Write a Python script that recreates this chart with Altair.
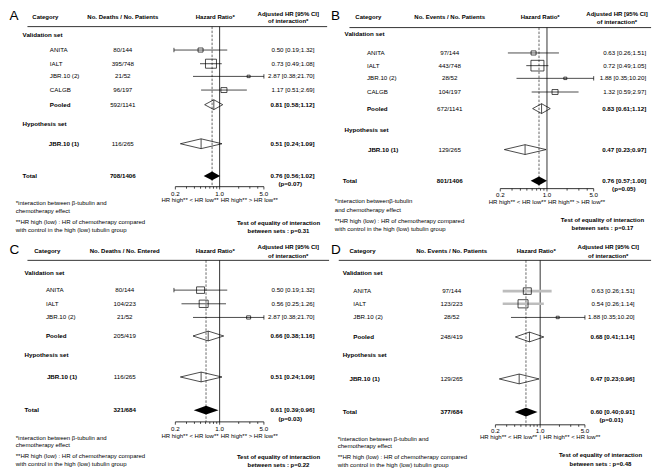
import math
import altair as alt
import pandas as pd

FONT = "Liberation Sans"
SX, SY = 0.973, 0.976
WP, HP = 322, 228
BODY, HDR, FN = 6.2, 6.0, 6.0

# ---------------- data ----------------
panel_ids = ["A", "B", "C", "D"]
count_headers = ["No. Deaths / No. Patients", "No. Events / No. Patients",
                 "No. Deaths / No. Entered", "No. Events / No. Patients"]

studies_AB = ["ANITA", "IALT", "JBR.10 (2)", "CALGB"]
studies_CD = ["ANITA", "IALT", "JBR.10 (2)"]

A_counts = ["80/144", "395/748", "21/52", "96/197"]
A_hr = [0.50, 0.73, 2.87, 1.17]
A_lo = [0.19, 0.49, 0.38, 0.51]
A_hi = [1.32, 1.08, 21.70, 2.69]
A_box = [5, 11, 3, 6]

B_counts = ["97/144", "443/748", "28/52", "104/197"]
B_hr = [0.63, 0.72, 1.88, 1.32]
B_lo = [0.26, 0.49, 0.35, 0.59]
B_hi = [1.51, 1.05, 10.20, 2.97]
B_box = [5, 13, 3, 6]

C_counts = ["80/144", "104/223", "21/52"]
C_hr = [0.50, 0.56, 2.87]
C_lo = [0.19, 0.25, 0.38]
C_hi = [1.32, 1.26, 21.70]
C_box = [8, 9, 4]

D_counts = ["97/144", "123/223", "28/52"]
D_hr = [0.63, 0.54, 1.88]
D_lo = [0.26, 0.26, 0.35]
D_hi = [1.51, 1.14, 10.20]
D_box = [8, 10, 3]

summary_labels = ["Pooled", "JBR.10 (1)", "Total"]
A_sum_counts = ["592/1141", "116/265", "708/1406"]
A_sum_hr = [0.81, 0.51, 0.76]
A_sum_lo = [0.58, 0.24, 0.56]
A_sum_hi = [1.12, 1.09, 1.02]
B_sum_counts = ["672/1141", "129/265", "801/1406"]
B_sum_hr = [0.83, 0.47, 0.76]
B_sum_lo = [0.61, 0.23, 0.57]
B_sum_hi = [1.12, 0.97, 1.00]
C_sum_counts = ["205/419", "116/265", "321/684"]
C_sum_hr = [0.66, 0.51, 0.61]
C_sum_lo = [0.38, 0.24, 0.39]
C_sum_hi = [1.16, 1.09, 0.96]
D_sum_counts = ["248/419", "129/265", "377/684"]
D_sum_hr = [0.68, 0.47, 0.60]
D_sum_lo = [0.41, 0.23, 0.40]
D_sum_hi = [1.14, 0.96, 0.91]

total_p = ["p=0.07", "p=0.05", "p=0.03", "p=0.01"]
equality_p = ["p=0.31", "p=0.17", "p=0.22", "p=0.48"]

tick_major = [0.2, 1.0, 5.0]
tick_labels = ["0.2", "1.0", "5.0"]
tick_minor = [0.3, 0.4, 0.5, 0.6, 0.7, 0.8, 0.9, 2, 3, 4]

fn1 = [["*interaction between \u03b2-tubulin and", "chemotherapy effect"],
       ["*interaction between\u03b2-tubulin", "and chemotherapy effect"],
       ["*interaction between \u03b2-tubulin and", "chemotherapy effect"],
       ["*interaction between \u03b2-tubulin and", "chemotherapy effect"]]
fn2 = ["**HR high (low) : HR of chemotherapy compared",
       "with control in the high (low) tubulin group"]
dir_left = ["HR high** < HR low**"] * 4
dir_right = ["HR high** > HR low**", "HR high** > HR low**",
             "HR high** > HR low**", "HR high** < HR low**"]

study_data = {
    "A": (studies_AB, A_counts, A_hr, A_lo, A_hi, A_box),
    "B": (studies_AB, B_counts, B_hr, B_lo, B_hi, B_box),
    "C": (studies_CD, C_counts, C_hr, C_lo, C_hi, C_box),
    "D": (studies_CD, D_counts, D_hr, D_lo, D_hi, D_box),
}
summary_data = {
    "A": (A_sum_counts, A_sum_hr, A_sum_lo, A_sum_hi),
    "B": (B_sum_counts, B_sum_hr, B_sum_lo, B_sum_hi),
    "C": (C_sum_counts, C_sum_hr, C_sum_lo, C_sum_hi),
    "D": (D_sum_counts, D_sum_hr, D_sum_lo, D_sum_hi),
}

# ---------------- layout (reference pixel positions inside each panel) ----------------
layout = {
    "A": dict(letter=(1.5, 8), cat_x=25, count_x=118, hrh_x=213, cih_x=288, ci_x=315,
              y_hdr=9, y_hdr1=6, y_hdr2=13.5, y_line=19, line=(20, 328), y_val=28, set_x=15,
              study_x=43, y_st=[43, 57, 70, 84], y_pool=99, y_hyp=119, jbr1_x=42, y_jbr1=139,
              y_tot=172, tot_x=15, y_p=180, p_x=290, y_axis=183, y_tl=190, y_dir=197,
              fn_x=8, y_fn=[200, 208, 219, 227], test_x=278, y_test=[220, 228], ax=(172, 263)),
    "B": dict(letter=(1, 8), cat_x=26, count_x=123, hrh_x=216, cih_x=295, ci_x=325,
              y_hdr=9, y_hdr1=6, y_hdr2=14, y_line=20, line=(20, 330), y_val=27, set_x=15,
              study_x=38, y_st=[46, 59, 72, 86], y_pool=103, y_hyp=125, jbr1_x=39, y_jbr1=145,
              y_tot=177, tot_x=13, y_p=185, p_x=302, y_axis=185, y_tl=192, y_dir=199,
              fn_x=5, y_fn=[198, 207, 218, 226], test_x=280, y_test=[217, 225], ax=(175, 271)),
    "C": dict(letter=(1.5, 8), cat_x=27, count_x=120, hrh_x=213, cih_x=288, ci_x=315,
              y_hdr=9, y_hdr1=5, y_hdr2=14, y_line=18.5, line=(20, 330), y_val=31, set_x=17,
              study_x=39, y_st=[49, 63, 77], y_pool=96, y_hyp=115, jbr1_x=40, y_jbr1=138,
              y_tot=172, tot_x=17, y_p=181, p_x=290, y_axis=184, y_tl=191, y_dir=198,
              fn_x=8, y_fn=[201, 208, 219, 227], test_x=278, y_test=[220, 228], ax=(172, 263)),
    "D": dict(letter=(1, 8), cat_x=20, count_x=125, hrh_x=212, cih_x=286, ci_x=313,
              y_hdr=9, y_hdr1=5, y_hdr2=14, y_line=18.5, line=(9, 330), y_val=31, set_x=13,
              study_x=24, y_st=[50, 63, 77], y_pool=97, y_hyp=115, jbr1_x=20, y_jbr1=140,
              y_tot=174, tot_x=13, y_p=182, p_x=289, y_axis=187, y_tl=193, y_dir=199,
              fn_x=8, y_fn=[202, 209, 220, 228], test_x=278, y_test=[218, 227], ax=(170, 262)),
}


def fmt(h, l, u):
    return f"{h:.2f} [{l:.2f};{u:.2f}]"


def panel(i):
    P = panel_ids[i]
    L = layout[P]
    lower = i >= 2
    fy = (lambda y: SY * y + 3.3) if lower else (lambda y: SY * (y - 3))
    fx = lambda x: SX * x

    ysc = alt.Scale(domain=[0, HP], reverse=True, zero=False, nice=False)
    ylin = lambda f: alt.Y(f"{f}:Q", scale=ysc, axis=None)
    xlin = alt.X("px:Q", scale=alt.Scale(domain=[0, WP], zero=False, nice=False), axis=None)
    # log scale spanning the whole panel width so that 0.2 and 5 fall on the axis ends
    p0, p1 = fx(L["ax"][0]), fx(L["ax"][1])
    k = (math.log(tick_major[-1]) - math.log(tick_major[0])) / (p1 - p0)
    d0 = math.exp(math.log(tick_major[0]) - p0 * k)
    d1 = math.exp(math.log(d0) + WP * k)
    logsc = alt.Scale(type="log", domain=[d0, d1], nice=False)
    xlog = lambda f: alt.X(f"{f}:Q", scale=logsc, axis=None)
    x2 = lambda f: alt.X2(f"{f}:Q")

    studies, counts, hr, lo, hi, box = study_data[P]
    s_counts, s_hr, s_lo, s_hi = summary_data[P]

    texts = []

    def T(x, y, s, align="left", bold=False, size=BODY):
        texts.append(dict(px=fx(x), py=fy(y), text=s, align=align, bold=bold, size=size))

    T(L["letter"][0], L["letter"][1], P, size=13.5)
    T(L["cat_x"], L["y_hdr"], "Category", bold=True, size=HDR)
    T(L["count_x"], L["y_hdr"], count_headers[i], "center", True, HDR)
    T(L["hrh_x"], L["y_hdr"], "Hazard Ratio*", "center", True, HDR)
    T(L["cih_x"], L["y_hdr1"], "Adjusted HR [95% CI]", "center", True, HDR)
    T(L["cih_x"], L["y_hdr2"], "of interaction*", "center", True, HDR)
    T(L["set_x"], L["y_val"], "Validation set", bold=True)
    for name, c, h, l, u, y in zip(studies, counts, hr, lo, hi, L["y_st"]):
        T(L["study_x"], y, name)
        T(L["count_x"], y, c, "center")
        T(L["ci_x"], y, fmt(h, l, u), "right")
    T(L["set_x"], L["y_hyp"], "Hypothesis set", bold=True)
    ys = [L["y_pool"], L["y_jbr1"], L["y_tot"]]
    xs = [L["study_x"], L["jbr1_x"], L["tot_x"]]
    for kk in range(3):
        T(xs[kk], ys[kk], summary_labels[kk], bold=True)
        T(L["count_x"], ys[kk], s_counts[kk], "center", bold=(kk == 2))
        T(L["ci_x"], ys[kk], fmt(s_hr[kk], s_lo[kk], s_hi[kk]), "right", True)
    T(L["p_x"], L["y_p"], f"({total_p[i]})", "center", True)
    T(L["fn_x"], L["y_fn"][0], fn1[i][0], size=FN)
    T(L["fn_x"], L["y_fn"][1], fn1[i][1], size=FN)
    T(L["fn_x"], L["y_fn"][2], fn2[0], size=FN)
    T(L["fn_x"], L["y_fn"][3], fn2[1], size=FN)
    T(L["test_x"], L["y_test"][0], "Test of equality of interaction", "center", True, FN)
    T(L["test_x"], L["y_test"][1], f"between sets : {equality_p[i]}", "center", True, FN)

    tdf = pd.DataFrame(texts)
    layers = []

    # reference lines
    ref = pd.DataFrame([dict(v=1.0, y1=fy(L["y_line"]), y2=fy(L["y_axis"]), t=s_hr[2])])
    layers.append(alt.Chart(ref).mark_rule(color="black", strokeWidth=0.8).encode(
        x=xlog("v"), y=ylin("y1"), y2=alt.Y2("y2:Q")))
    layers.append(alt.Chart(ref).mark_rule(color="black", strokeWidth=0.6, strokeDash=[2.5, 1.5]).encode(
        x=xlog("t"), y=ylin("y1"), y2=alt.Y2("y2:Q")))

    # header underline
    ul = pd.DataFrame([dict(px=fx(L["line"][0]), px2=fx(L["line"][1]), py=fy(L["y_line"]))])
    layers.append(alt.Chart(ul).mark_rule(color="black", strokeWidth=0.8).encode(
        x=xlin, x2=alt.X2("px2:Q"), y=ylin("py")))

    # study CIs and boxes
    grey = (P == "D")
    sdf = pd.DataFrame(dict(study=studies, hr=hr, lo=lo, hi=hi, box=box,
                            py=[fy(y) for y in L["y_st"]]))
    sdf["col"] = ["#bdbdbd" if (grey and s in ("ANITA", "IALT")) else "black" for s in studies]
    sdf["lw"] = [2.6 if (grey and s in ("ANITA", "IALT")) else 0.7 for s in studies]
    sdf["sz"] = [b * b for b in box]
    base = alt.Chart(sdf).transform_calculate(
        hi_c="min(datum.hi, 5)", t1="datum.py - 2.2", t2="datum.py + 2.2", five="5")
    layers.append(base.mark_rule().encode(
        x=xlog("lo"), x2=x2("hi_c"), y=ylin("py"),
        color=alt.Color("col:N", scale=None), size=alt.Size("lw:Q", scale=None)))
    layers.append(base.transform_filter("datum.lo < 0.2").mark_rule(color="black", strokeWidth=0.7).encode(
        x=xlog("lo"), y=ylin("t1"), y2=alt.Y2("t2:Q")))
    layers.append(base.transform_filter("datum.hi > 5").mark_rule(color="black", strokeWidth=0.7).encode(
        x=xlog("five"), y=ylin("t1"), y2=alt.Y2("t2:Q")))
    layers.append(base.mark_point(shape="M-1,-0.82L1,-0.82L1,0.82L-1,0.82Z", filled=False,
                                  color="black", strokeWidth=0.7, opacity=1).encode(
        x=xlog("hr"), y=ylin("py"), size=alt.Size("sz:Q", scale=None)))

    # diamonds
    half = [4.9, 4.9, 4.4]
    drows = []
    for kk in range(3):
        yc = fy(ys[kk])
        h = half[kk]
        drows += [dict(id=kk, xv=s_lo[kk], a=yc, b=yc),
                  dict(id=kk, xv=s_hr[kk], a=yc - h, b=yc + h),
                  dict(id=kk, xv=s_hi[kk], a=yc, b=yc)]
    ddf = pd.DataFrame(drows)
    layers.append(alt.Chart(ddf).transform_filter("datum.id < 2").mark_area(
        fill="white", fillOpacity=0, stroke="black", strokeWidth=0.7).encode(
        x=xlog("xv"), y=ylin("a"), y2=alt.Y2("b:Q"), detail="id:N"))
    layers.append(alt.Chart(ddf).transform_filter("datum.id == 2").mark_area(
        color="black").encode(x=xlog("xv"), y=ylin("a"), y2=alt.Y2("b:Q"), detail="id:N"))
    cdf = pd.DataFrame(dict(hr=s_hr[:2], a=[fy(ys[kk]) - half[kk] for kk in range(2)],
                            b=[fy(ys[kk]) + half[kk] for kk in range(2)]))
    layers.append(alt.Chart(cdf).mark_rule(color="black", strokeWidth=0.7).encode(
        x=xlog("hr"), y=ylin("a"), y2=alt.Y2("b:Q")))

    # axis
    ya = fy(L["y_axis"])
    adf = pd.DataFrame([dict(a=tick_major[0], b=tick_major[-1], py=ya)])
    layers.append(alt.Chart(adf).mark_rule(color="black", strokeWidth=0.8).encode(
        x=xlog("a"), x2=x2("b"), y=ylin("py")))
    tk = pd.DataFrame(dict(v=tick_major + tick_minor,
                           a=[ya] * (len(tick_major) + len(tick_minor)),
                           b=[ya + 2.8] * len(tick_major) + [ya + 2.0] * len(tick_minor)))
    layers.append(alt.Chart(tk).mark_rule(color="black", strokeWidth=0.7).encode(
        x=xlog("v"), y=ylin("a"), y2=alt.Y2("b:Q")))
    tl = pd.DataFrame(dict(v=tick_major, lab=tick_labels, py=[fy(L["y_tl"])] * 3))
    layers.append(alt.Chart(tl).mark_text(font=FONT, fontSize=BODY, baseline="middle", align="center").encode(
        x=xlog("v"), y=ylin("py"), text="lab:N"))
    yd = fy(L["y_dir"])
    gap = 3 if P == "D" else 1
    dl = pd.DataFrame(dict(v=[1.0], lab=[dir_left[i]], py=[yd]))
    dr = pd.DataFrame(dict(v=[1.0], lab=[dir_right[i]], py=[yd]))
    layers.append(alt.Chart(dl).mark_text(font=FONT, fontSize=FN, baseline="middle", align="right", dx=-gap).encode(
        x=xlog("v"), y=ylin("py"), text="lab:N"))
    layers.append(alt.Chart(dr).mark_text(font=FONT, fontSize=FN, baseline="middle", align="left", dx=gap).encode(
        x=xlog("v"), y=ylin("py"), text="lab:N"))
    if P == "D":
        bar = pd.DataFrame(dict(v=[1.0], lab=["|"], py=[yd]))
        layers.append(alt.Chart(bar).mark_text(font=FONT, fontSize=FN, baseline="middle", align="center").encode(
            x=xlog("v"), y=ylin("py"), text="lab:N"))

    # text layers (grouped by style)
    for (al, bd, sz), g in tdf.groupby(["align", "bold", "size"]):
        layers.append(alt.Chart(g.reset_index(drop=True)).mark_text(
            font=FONT, fontSize=sz, fontWeight="bold" if bd else "normal",
            align=al, baseline="middle", color="black").encode(
            x=xlin, y=ylin("py"), text="text:N"))

    return alt.layer(*layers).resolve_scale(x="independent").properties(width=WP, height=HP)


chart = alt.concat(panel(0), panel(1), panel(2), panel(3), columns=2, spacing=0,
                   bounds="flush").properties(padding=0, background="white").configure_view(
    stroke="transparent", strokeWidth=0)

chart.save("out.html", embed_options={"renderer": "svg", "actions": False})
